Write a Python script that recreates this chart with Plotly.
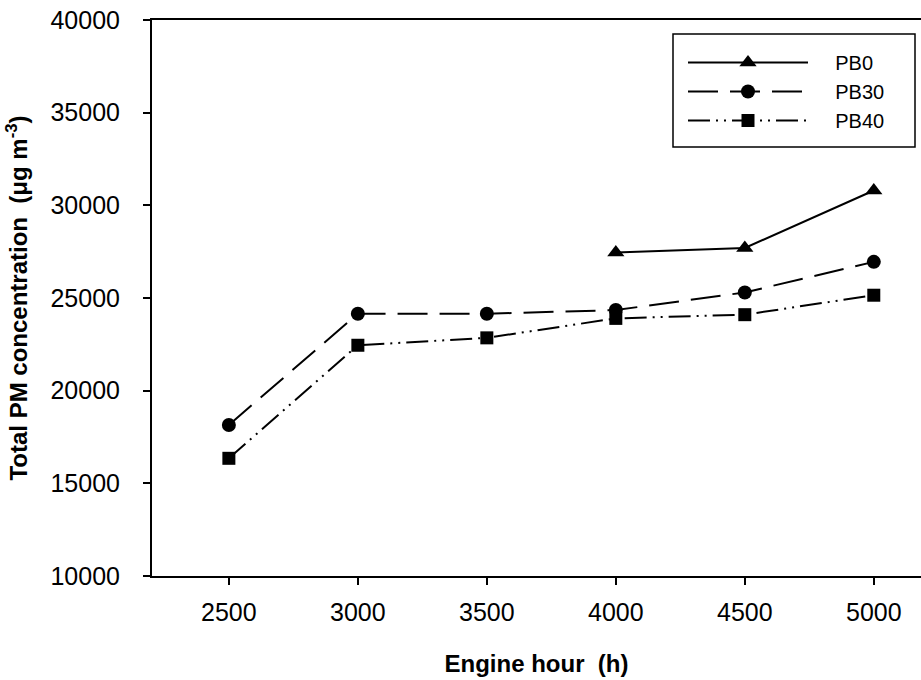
import plotly.graph_objects as go

hours = [2500, 3000, 3500, 4000, 4500, 5000]
pb0_hours = [4000, 4500, 5000]
pb0 = [27450, 27700, 30800]
pb30 = [18150, 24150, 24150, 24350, 25300, 26950]
pb40 = [16350, 22450, 22850, 23900, 24100, 25150]

x_ticks = [2500, 3000, 3500, 4000, 4500, 5000]
y_ticks = [10000, 15000, 20000, 25000, 30000, 35000, 40000]
y_tick_text = [str(v) for v in y_ticks]
series_names = ["PB0", "PB30", "PB40"]

FONT = "Liberation Sans, Arial, sans-serif"
PAD = "\u00a0" * 4

fig = go.Figure()
fig.add_trace(go.Scatter(
    x=pb0_hours, y=pb0, name=PAD + series_names[0], mode="lines+markers",
    line=dict(color="black", width=2, dash="solid"),
    marker=dict(symbol="triangle-up", size=15, color="black"),
))
fig.add_trace(go.Scatter(
    x=hours, y=pb30, name=PAD + series_names[1], mode="lines+markers",
    line=dict(color="black", width=2, dash="30px,12px"),
    marker=dict(symbol="circle", size=14, color="black"),
))
fig.add_trace(go.Scatter(
    x=hours, y=pb40, name=PAD + series_names[2], mode="lines+markers",
    line=dict(color="black", width=2, dash="22px,6px,2px,6px,2px,6px"),
    marker=dict(symbol="square", size=13, color="black"),
))

W, H = 921, 680
fig.update_layout(
    width=W, height=H,
    margin=dict(l=152, r=0, t=20, b=104),
    paper_bgcolor="white", plot_bgcolor="white",
    font=dict(family=FONT, color="black", size=22),
    showlegend=True,
    legend=dict(
        x=(683 - 152) / 769, y=(H - 104 - 43) / (H - 124), xanchor="left", yanchor="top",
        bgcolor="rgba(0,0,0,0)", borderwidth=0,
        font=dict(size=20, family=FONT),
        itemwidth=120, tracegroupgap=0,
    ),
    shapes=[dict(
        type="rect", xref="paper", yref="paper",
        x0=(673 - 152) / 769, x1=(915 - 152) / 769,
        y0=(H - 104 - 147) / (H - 124), y1=(H - 104 - 34) / (H - 124),
        line=dict(color="black", width=1.5), fillcolor="rgba(0,0,0,0)", layer="above",
    )],
    xaxis=dict(
        range=[2202, 5183], tickvals=x_ticks,
        ticks="outside", ticklen=7, tickwidth=1.5, tickcolor="black",
        showline=True, linecolor="black", linewidth=2, mirror=True,
        showgrid=False, zeroline=False, ticklabelstandoff=6,
        tickfont=dict(size=25, family=FONT),
        title=dict(text="<b>Engine hour  (h)</b>", font=dict(size=24, family=FONT), standoff=30),
    ),
    yaxis=dict(
        range=[10000, 40000], tickvals=y_ticks, ticktext=y_tick_text,
        ticks="outside", ticklen=7, tickwidth=1.5, tickcolor="black",
        showline=True, linecolor="black", linewidth=2, mirror=False,
        showgrid=False, zeroline=False, ticklabelstandoff=18,
        tickfont=dict(size=25, family=FONT),
        title=dict(text="<b>Total PM concentration  (μg m<sup>-3</sup>)</b>",
                   font=dict(size=24, family=FONT), standoff=16),
    ),
)

fig.write_html("out.html")
